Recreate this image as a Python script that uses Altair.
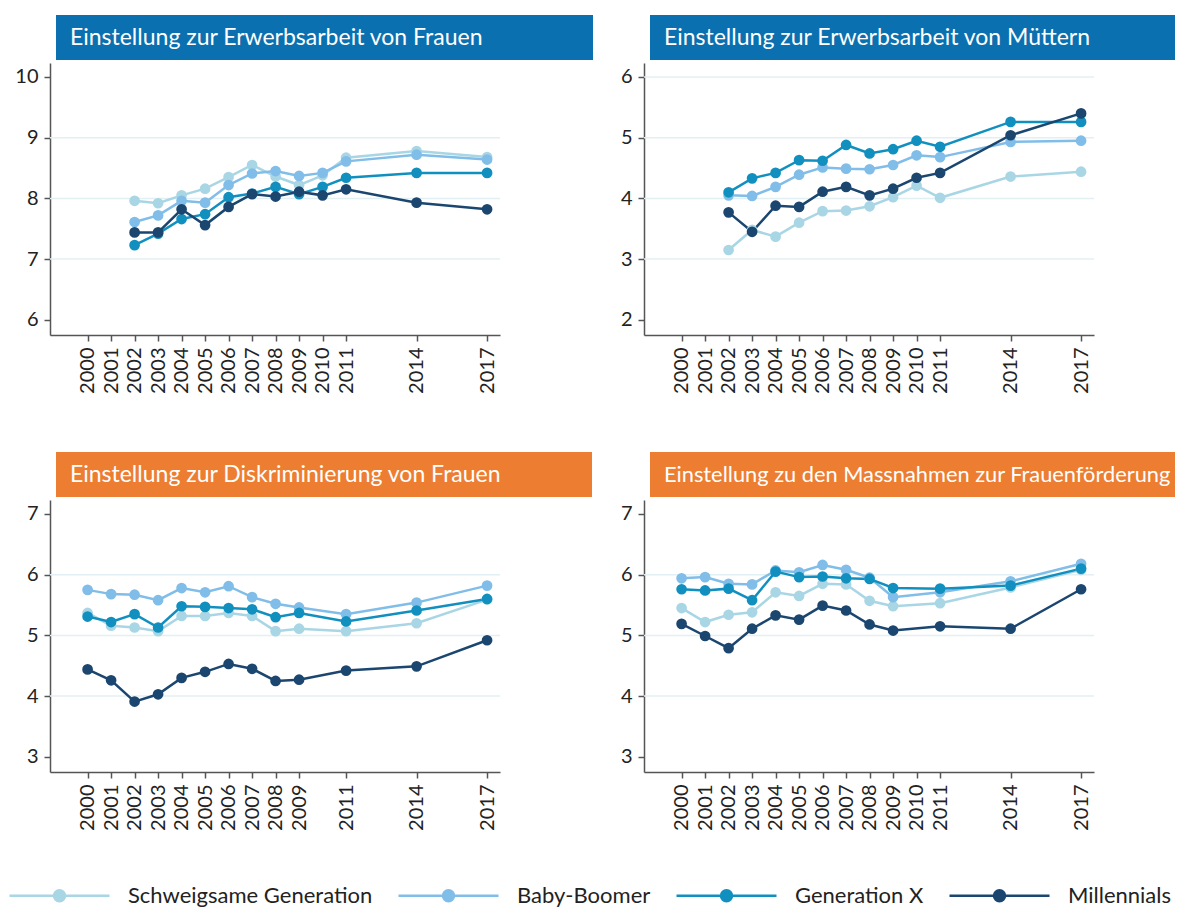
import altair as alt
import pandas as pd

FONT = "Lato"

series = ["Schweigsame Generation", "Baby-Boomer", "Generation X", "Millennials"]
colors = ["#a9d6e5", "#80bde8", "#1190c0", "#1b466f"]

years_a = [2002, 2003, 2004, 2005, 2006, 2007, 2008, 2009, 2010, 2011, 2014, 2017]
years_b = [2000, 2001, 2002, 2003, 2004, 2005, 2006, 2007, 2008, 2009, 2011, 2014, 2017]

xticks_a = [2000, 2001, 2002, 2003, 2004, 2005, 2006, 2007, 2008, 2009, 2010, 2011, 2014, 2017]
xticks_c = [2000, 2001, 2002, 2003, 2004, 2005, 2006, 2007, 2008, 2009, 2011, 2014, 2017]

# Panel 1: Einstellung zur Erwerbsarbeit von Frauen
p1_schweig = [7.96, 7.92, 8.05, 8.16, 8.35, 8.55, 8.36, 8.22, 8.38, 8.67, 8.78, 8.68]
p1_boomer = [7.61, 7.72, 7.96, 7.93, 8.22, 8.41, 8.45, 8.37, 8.42, 8.61, 8.72, 8.64]
p1_genx = [7.23, 7.42, 7.66, 7.74, 8.02, 8.08, 8.19, 8.07, 8.19, 8.34, 8.42, 8.42]
p1_mill = [7.44, 7.44, 7.82, 7.56, 7.86, 8.07, 8.03, 8.11, 8.05, 8.15, 7.93, 7.82]

# Panel 2: Einstellung zur Erwerbsarbeit von Müttern
p2_schweig = [3.15, 3.48, 3.37, 3.60, 3.79, 3.80, 3.87, 4.02, 4.21, 4.01, 4.36, 4.44]
p2_boomer = [4.05, 4.04, 4.19, 4.39, 4.51, 4.49, 4.48, 4.55, 4.71, 4.68, 4.93, 4.95]
p2_genx = [4.10, 4.33, 4.42, 4.63, 4.62, 4.88, 4.74, 4.81, 4.95, 4.85, 5.26, 5.26]
p2_mill = [3.77, 3.45, 3.88, 3.86, 4.11, 4.19, 4.05, 4.16, 4.34, 4.42, 5.04, 5.40]

# Panel 3: Einstellung zur Diskriminierung von Frauen
p3_schweig = [5.37, 5.16, 5.13, 5.07, 5.32, 5.32, 5.37, 5.32, 5.07, 5.11, 5.07, 5.20, 5.59]
p3_boomer = [5.75, 5.68, 5.67, 5.58, 5.78, 5.71, 5.81, 5.63, 5.52, 5.46, 5.35, 5.54, 5.82]
p3_genx = [5.31, 5.22, 5.35, 5.13, 5.48, 5.47, 5.45, 5.43, 5.30, 5.37, 5.23, 5.41, 5.60]
p3_mill = [4.44, 4.26, 3.91, 4.03, 4.30, 4.40, 4.53, 4.45, 4.25, 4.27, 4.42, 4.49, 4.92]

# Panel 4: Einstellung zu den Massnahmen zur Frauenförderung
p4_schweig = [5.45, 5.22, 5.34, 5.38, 5.71, 5.65, 5.85, 5.84, 5.57, 5.48, 5.53, 5.79, 6.08]
p4_boomer = [5.94, 5.96, 5.85, 5.84, 6.07, 6.04, 6.16, 6.08, 5.95, 5.63, 5.71, 5.89, 6.18]
p4_genx = [5.76, 5.74, 5.77, 5.58, 6.05, 5.96, 5.97, 5.94, 5.93, 5.78, 5.77, 5.82, 6.10]
p4_mill = [5.19, 4.99, 4.79, 5.11, 5.33, 5.26, 5.49, 5.41, 5.18, 5.08, 5.15, 5.11, 5.76]

titles = [
    "Einstellung zur Erwerbsarbeit von Frauen",
    "Einstellung zur Erwerbsarbeit von Müttern",
    "Einstellung zur Diskriminierung von Frauen",
    "Einstellung zu den Massnahmen zur Frauenförderung",
]
BLUE = "#0b70b0"
ORANGE = "#ed7d31"

W, H = 450, 272
XDOM = [1998.4, 2017.55]

# legend symbol: a 100px line with a dot in its middle (unit = 10px at symbolSize 400)
LEG_SYMBOL = "M-1,0H9M3.45,0A0.55,0.55 0 1,0 4.55,0A0.55,0.55 0 1,0 3.45,0"


def panel(title, box_color, years, vals, xticks, yticks, ydomain, grid, box_right, tsize):
    rows = []
    for si, (name, v) in enumerate(zip(series, vals)):
        for yr, val in zip(years, v):
            rows.append({"Jahr": yr, "Wert": val, "Generation": name, "idx": si})
    df = pd.DataFrame(rows)

    yscale = alt.Scale(domain=ydomain, nice=False, zero=False)
    xscale = alt.Scale(domain=XDOM, nice=False, zero=False)
    cscale = alt.Scale(domain=series, range=colors)
    yaxis = alt.Axis(values=yticks, title=None, grid=False, labelPadding=6)

    x = alt.X(
        "Jahr:Q",
        scale=xscale,
        axis=alt.Axis(values=xticks, format="d", labelAngle=270, title=None, grid=False,
                      labelAlign="right", labelBaseline="middle", labelPadding=6),
    )
    y = alt.Y("Wert:Q", scale=yscale, axis=yaxis)

    gridl = alt.Chart(pd.DataFrame({"g": grid})).mark_rule(
        color="#e3f0f3", strokeWidth=1.5
    ).encode(y=alt.Y("g:Q", scale=yscale, axis=yaxis))

    lines = alt.Chart(df).mark_line(strokeWidth=2.5).encode(
        x=x, y=y,
        color=alt.Color("Generation:N", scale=cscale, sort=series,
                        legend=alt.Legend(
                            title=None, orient="none", direction="horizontal",
                            legendX=-42, legendY=821, columns=4, padding=0,
                            symbolType=LEG_SYMBOL, symbolSize=400, symbolStrokeWidth=2.5,
                            labelFont=FONT, labelFontSize=22, labelColor="#222222",
                            labelOffset=97, columnPadding=20, labelLimit=600,
                        )),
        detail="Generation:N",
        order=alt.Order("Jahr:Q"),
    )
    points = alt.Chart(df).mark_circle(size=115, opacity=1).encode(
        x=x, y=y,
        color=alt.Color("Generation:N", scale=cscale, sort=series, legend=None),
        order=alt.Order("idx:Q"),
    )
    tdf = pd.DataFrame({"t": [title]})
    box = alt.Chart(tdf).mark_rect(color=box_color).encode(
        x=alt.value(6), x2=alt.value(box_right), y=alt.value(-48), y2=alt.value(-3)
    )
    txt = alt.Chart(tdf).mark_text(
        align="left", baseline="middle", color="white", fontSize=tsize, font=FONT
    ).encode(x=alt.value(20), y=alt.value(-25), text="t:N")

    return alt.layer(gridl, lines, points, box, txt).properties(width=W, height=H)


c1 = panel(titles[0], BLUE, years_a, [p1_schweig, p1_boomer, p1_genx, p1_mill],
           xticks_a, [6, 7, 8, 9, 10], [5.75, 10.23], [7, 8, 9], 543, 23)
c2 = panel(titles[1], BLUE, years_a, [p2_schweig, p2_boomer, p2_genx, p2_mill],
           xticks_a, [2, 3, 4, 5, 6], [1.75, 6.23], [3, 4, 5, 6], 531, 23)
c3 = panel(titles[2], ORANGE, years_b, [p3_schweig, p3_boomer, p3_genx, p3_mill],
           xticks_c, [3, 4, 5, 6, 7], [2.75, 7.23], [4, 5, 6], 542, 23)
c4 = panel(titles[3], ORANGE, years_b, [p4_schweig, p4_boomer, p4_genx, p4_mill],
           xticks_a, [3, 4, 5, 6, 7], [2.75, 7.23], [4, 5, 6], 531, 21.8)

chart = alt.concat(c1, c2, c3, c4, columns=2, spacing={"row": 165, "column": 144}).properties(
    bounds="flush", padding={"left": 0, "top": 7, "right": 0, "bottom": 0}
).configure_view(stroke=None).configure_axis(
    domainColor="#555555", domainWidth=1.5, tickColor="#555555", tickWidth=1.5, tickSize=6,
    labelFont=FONT, labelColor="#222222",
).configure_axisX(labelFontSize=20).configure_axisY(labelFontSize=20).configure_legend(
    symbolStrokeWidth=2.5
)

chart.save("out.html", embed_options={"renderer": "svg", "actions": False})
